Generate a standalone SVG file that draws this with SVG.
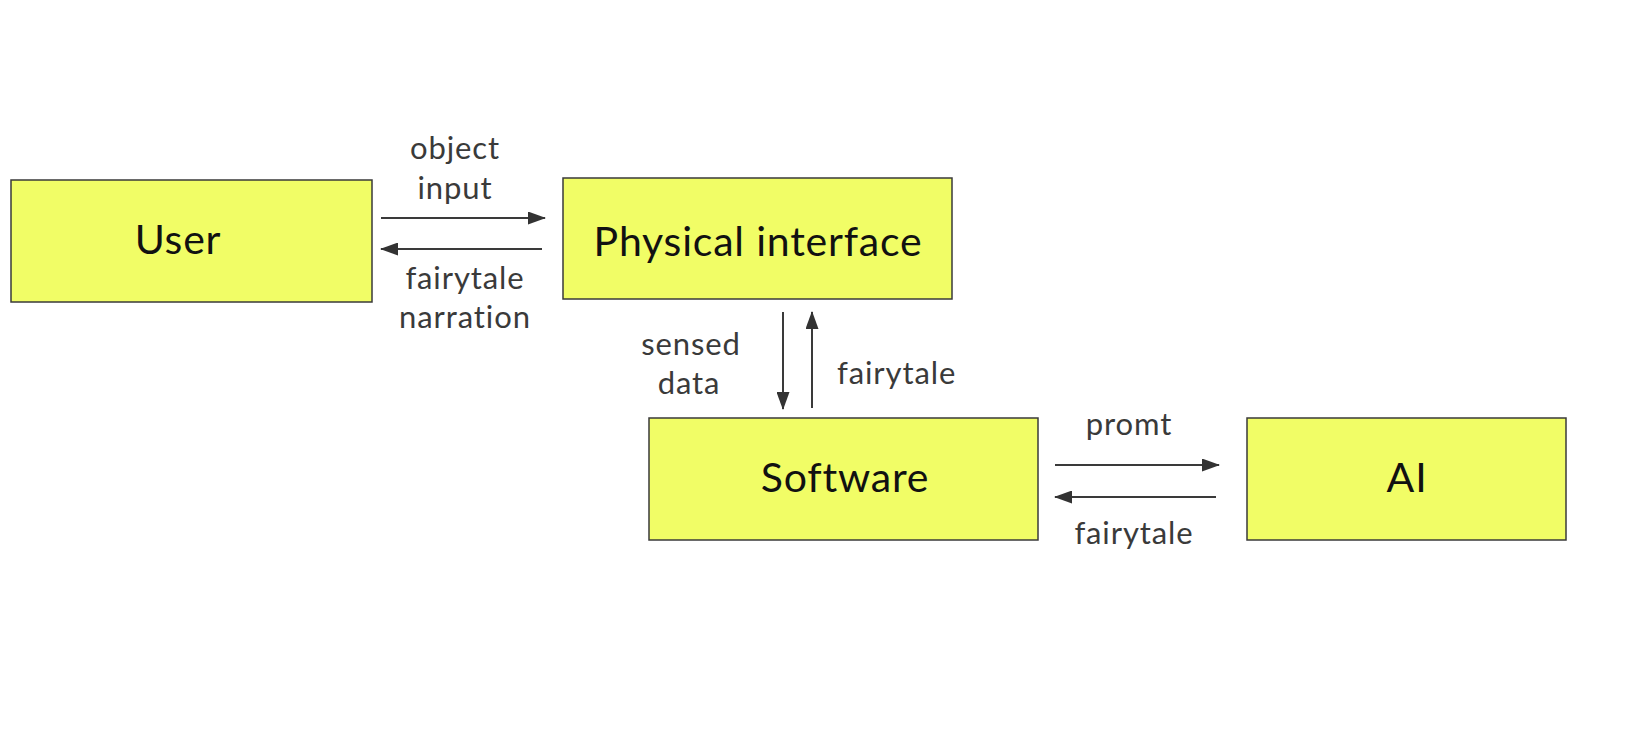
<svg xmlns="http://www.w3.org/2000/svg" width="1636" height="732" viewBox="0 0 1636 732">
<style>
.box{fill:#f1fd66;stroke:#3a3a3a;stroke-width:1.5}
.nt{font-family:Lato,"Noto Sans",sans-serif;font-size:41px;letter-spacing:0.8px;fill:#111;text-anchor:middle}
.lb{font-family:Lato,"Noto Sans",sans-serif;font-size:31px;letter-spacing:0.9px;fill:#3a3a3a}
.c{text-anchor:middle}
.ar{stroke:#3a3a3a;stroke-width:2;fill:none;marker-end:url(#ah)}
</style>
<defs>
<marker id="ah" viewBox="0 0 18 13" refX="17" refY="6.5" markerWidth="18" markerHeight="13" markerUnits="userSpaceOnUse" orient="auto">
<path d="M0,0 L18,6.5 L0,13 z" fill="#333"/>
</marker>
</defs>
<rect width="1636" height="732" fill="#fff"/>
<g id="user"><rect class="box" x="11" y="180" width="361" height="122"/><text class="nt" x="178" y="254">User</text></g>
<g id="physical"><rect class="box" x="563" y="178" width="389" height="121"/><text class="nt" x="758" y="256">Physical interface</text></g>
<g id="software"><rect class="box" x="649" y="418" width="389" height="122"/><text class="nt" x="845" y="492">Software</text></g>
<g id="ai"><rect class="box" x="1247" y="418" width="319" height="122"/><text class="nt" x="1407" y="492">AI</text></g>
<g id="connectors">
<line class="ar" x1="381" y1="218" x2="545" y2="218"/>
<line class="ar" x1="542" y1="249" x2="381" y2="249"/>
<line class="ar" x1="783" y1="312" x2="783" y2="409"/>
<line class="ar" x1="812" y1="408" x2="812" y2="312"/>
<line class="ar" x1="1055" y1="465" x2="1219" y2="465"/>
<line class="ar" x1="1216" y1="497" x2="1055" y2="497"/>
<text class="lb c" x="455" y="159">object</text>
<text class="lb c" x="455" y="199">input</text>
<text class="lb c" x="465" y="289">fairytale</text>
<text class="lb c" x="465" y="328">narration</text>
<text class="lb c" x="691" y="355">sensed</text>
<text class="lb c" x="689" y="394">data</text>
<text class="lb" x="837" y="384">fairytale</text>
<text class="lb c" x="1129" y="435">promt</text>
<text class="lb c" x="1134" y="544">fairytale</text>
</g>
</svg>
